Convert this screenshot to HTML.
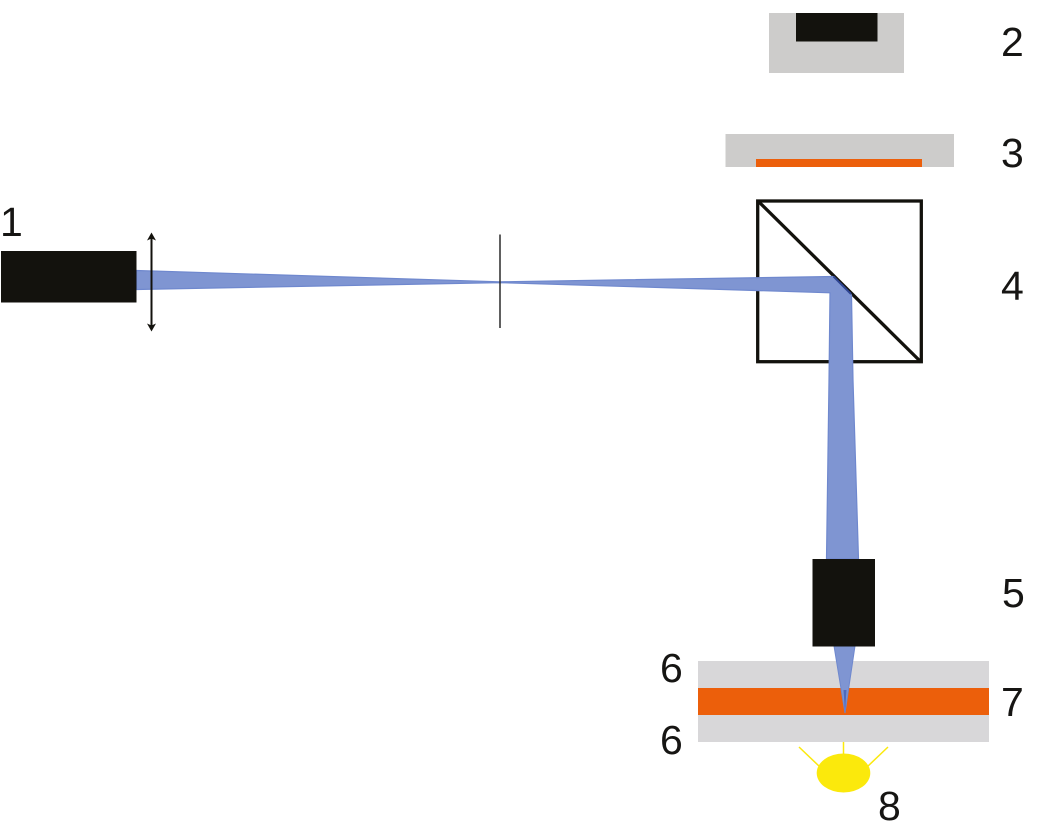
<!DOCTYPE html>
<html lang="en">
<head>
<meta charset="utf-8">
<title>Optical setup diagram</title>
<style>
html,body{margin:0;padding:0;background:#fff;width:1041px;height:827px;overflow:hidden}
svg{display:block}
text{font-family:"Liberation Sans",sans-serif;font-size:41px;fill:#161513}
</style>
</head>
<body>
<svg width="1041" height="827" viewBox="0 0 1041 827" xmlns="http://www.w3.org/2000/svg">
  <rect width="1041" height="827" fill="#fff"/>

  <!-- 2 -->
  <rect x="769" y="13" width="135" height="60" fill="#cdcccb"/>
  <rect x="796" y="13" width="81.500" height="28.500" fill="#13120d"/>

  <!-- 3 -->
  <rect x="725.500" y="134" width="228.500" height="33" fill="#cdcccb"/>
  <rect x="756" y="159" width="166" height="8" fill="#ec5f0b"/>

  <!-- 6 / 7 -->
  <rect x="698" y="661" width="291" height="81" fill="#d8d7d9"/>
  <rect x="698" y="688" width="291" height="27" fill="#ec5f0b"/>

  <!-- 8 -->
  <g stroke="#fbe90c" stroke-width="1.500" fill="none">
    <line x1="843.500" y1="742" x2="843.500" y2="756"/>
    <line x1="799" y1="747" x2="820" y2="767"/>
    <line x1="888" y1="747" x2="867" y2="767"/>
  </g>
  <ellipse cx="843.500" cy="773" rx="26.800" ry="19.500" fill="#fbe90c"/>

  <!-- 4 -->
  <rect x="757.700" y="201" width="163.600" height="160.700" fill="none" stroke="#13120d" stroke-width="3.300"/>
  <line x1="758" y1="201" x2="921" y2="362" stroke="#13120d" stroke-width="3.300"/>

  <!-- Beam -->
  <path d="M136.500 270.500 L500 281.800 L833 276.500 L851.500 295 L853 380 L858.500 559 L826.500 559 L829 380 L830 292.800 L500 282.600 L136.500 289.500 Z" fill="#7f95d2" stroke="#6f88ce" stroke-width="1.200" stroke-linejoin="round"/>
  <line x1="833.500" y1="276.500" x2="851" y2="294" stroke="#2f4592" stroke-width="2"/>
  <path d="M834 646 L855 646 L845 713 Z" fill="#7f95d2" stroke="#6f88ce" stroke-width="1"/>
  <path d="M843.500 690 L846.500 690 L845 713 Z" fill="#4f6abc"/>

  <!-- 1 -->
  <rect x="1" y="251" width="135.500" height="51.500" fill="#13120d"/>

  <!-- Lens -->
  <line x1="151.500" y1="236" x2="151.500" y2="328" stroke="#13120d" stroke-width="2"/>
  <path d="M147 240.500 L151.500 232.500 L156 240.500 L151.500 238.500 Z" fill="#13120d"/>
  <path d="M147 323.500 L151.500 331.500 L156 323.500 L151.500 325.500 Z" fill="#13120d"/>

  <!-- Pinhole -->
  <line x1="500" y1="234.500" x2="500" y2="328" stroke="#2b2a2a" stroke-width="1.500"/>

  <!-- 5 -->
  <rect x="812.500" y="559" width="62.500" height="87.500" fill="#13120d"/>

  <!-- Labels -->
  <text x="0" y="236">1</text>
  <text x="1001" y="56">2</text>
  <text x="1001" y="167">3</text>
  <text x="1001" y="300">4</text>
  <text x="1002" y="607">5</text>
  <text x="660" y="682">6</text>
  <text x="660" y="754">6</text>
  <text x="1001" y="716">7</text>
  <text x="878" y="820">8</text>
</svg>
</body>
</html>
